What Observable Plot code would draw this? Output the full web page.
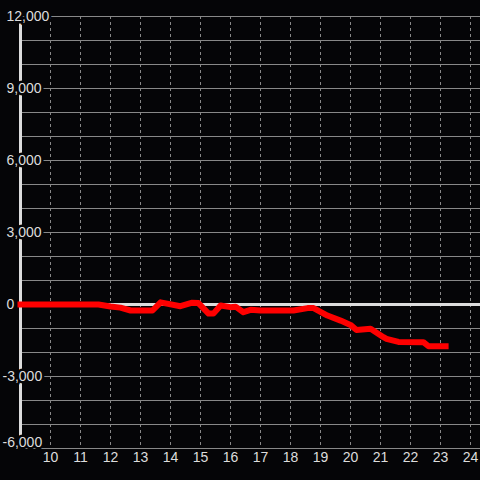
<!DOCTYPE html>
<html>
<head>
<meta charset="utf-8">
<script src="https://cdn.jsdelivr.net/npm/d3@7"></script>
<script src="https://cdn.jsdelivr.net/npm/@observablehq/plot@0.6"></script>
<style>
  html, body { margin: 0; padding: 0; background: #050507; }
  #chart { width: 480px; height: 480px; }
</style>
</head>
<body>
<div id="chart"></div>
<script>
// Series: hour of day and value
const hours  = [9, 11.6, 12.0, 12.33, 12.67, 13.4, 13.67, 14.33, 14.7, 14.93, 15.27, 15.43, 15.67, 16.0, 16.17, 16.43, 16.67, 17.0, 18.1, 18.57, 18.77, 19.23, 19.67, 20.0, 20.2, 20.67, 21.1, 21.2, 21.6, 22.43, 22.6, 23.17];
const values = [0, 0, -80, -130, -250, -250, 90, -70, 70, 60, -380, -380, -40, -110, -90, -320, -220, -250, -250, -150, -150, -460, -670, -850, -1060, -1010, -1360, -1430, -1560, -1570, -1740, -1740];

// Ticks
const xTicks = [10, 11, 12, 13, 14, 15, 16, 17, 18, 19, 20, 21, 22, 23, 24];
const yTicks = [12000, 9000, 6000, 3000, 0, -3000, -6000];
const yTickLabels = ["12,000", "9,000", "6,000", "3,000", "0", "-3,000", "-6,000"];
const yGrid = d3.range(-6000, 12001, 1000);

const data = hours.map((h, i) => ({hour: h, value: values[i]}));
const yLabelData = yTicks.map((v, i) => ({v, label: yTickLabels[i]}));

const bg = "#050507";
const font = "'Liberation Sans', Arial, sans-serif";

const chart = Plot.plot({
  width: 480,
  height: 480,
  marginTop: 16,
  marginBottom: 32,
  marginLeft: 20,
  marginRight: 0,
  style: {background: bg, fontFamily: font},
  x: {domain: [9, 24.3333], axis: null},
  y: {domain: [-6000, 12000], axis: null},
  marks: [
    Plot.ruleY(yGrid, {y: d => d, stroke: "#888", strokeWidth: 1}),
    Plot.ruleX(xTicks, {x: d => d, stroke: "#888", strokeWidth: 1, strokeDasharray: "3,3"}),
    Plot.ruleY([0], {stroke: "#ddd", strokeWidth: 3}),
    Plot.ruleX([9], {stroke: "#ddd", strokeWidth: 3}),
    Plot.text(xTicks, {x: d => d, text: d => String(d), frameAnchor: "bottom", dy: 13,
      fill: "#ddd", fontSize: 14, fontFamily: font}),
    Plot.text(yLabelData.filter(d => d.v >= 0), {y: "v", text: "label", frameAnchor: "left", dx: -14,
      textAnchor: "start", fill: "#ddd", stroke: bg, strokeWidth: 5, fontSize: 14, fontFamily: font}),
    Plot.text(yLabelData.filter(d => d.v < 0 && d.v > -6000), {y: "v", text: "label", frameAnchor: "left", dx: -18,
      textAnchor: "start", fill: "#ddd", stroke: bg, strokeWidth: 5, fontSize: 14, fontFamily: font}),
    Plot.text(yLabelData.filter(d => d.v <= -6000), {y: "v", text: "label", frameAnchor: "left", dx: -18, dy: -6,
      textAnchor: "start", fill: "#ddd", stroke: bg, strokeWidth: 5, fontSize: 14, fontFamily: font}),
    Plot.line(data, {x: "hour", y: "value", stroke: "#ff0000", strokeWidth: 6,
      strokeLinecap: "square", strokeLinejoin: "round"})
  ]
});
document.getElementById("chart").appendChild(chart);
</script>
</body>
</html>
